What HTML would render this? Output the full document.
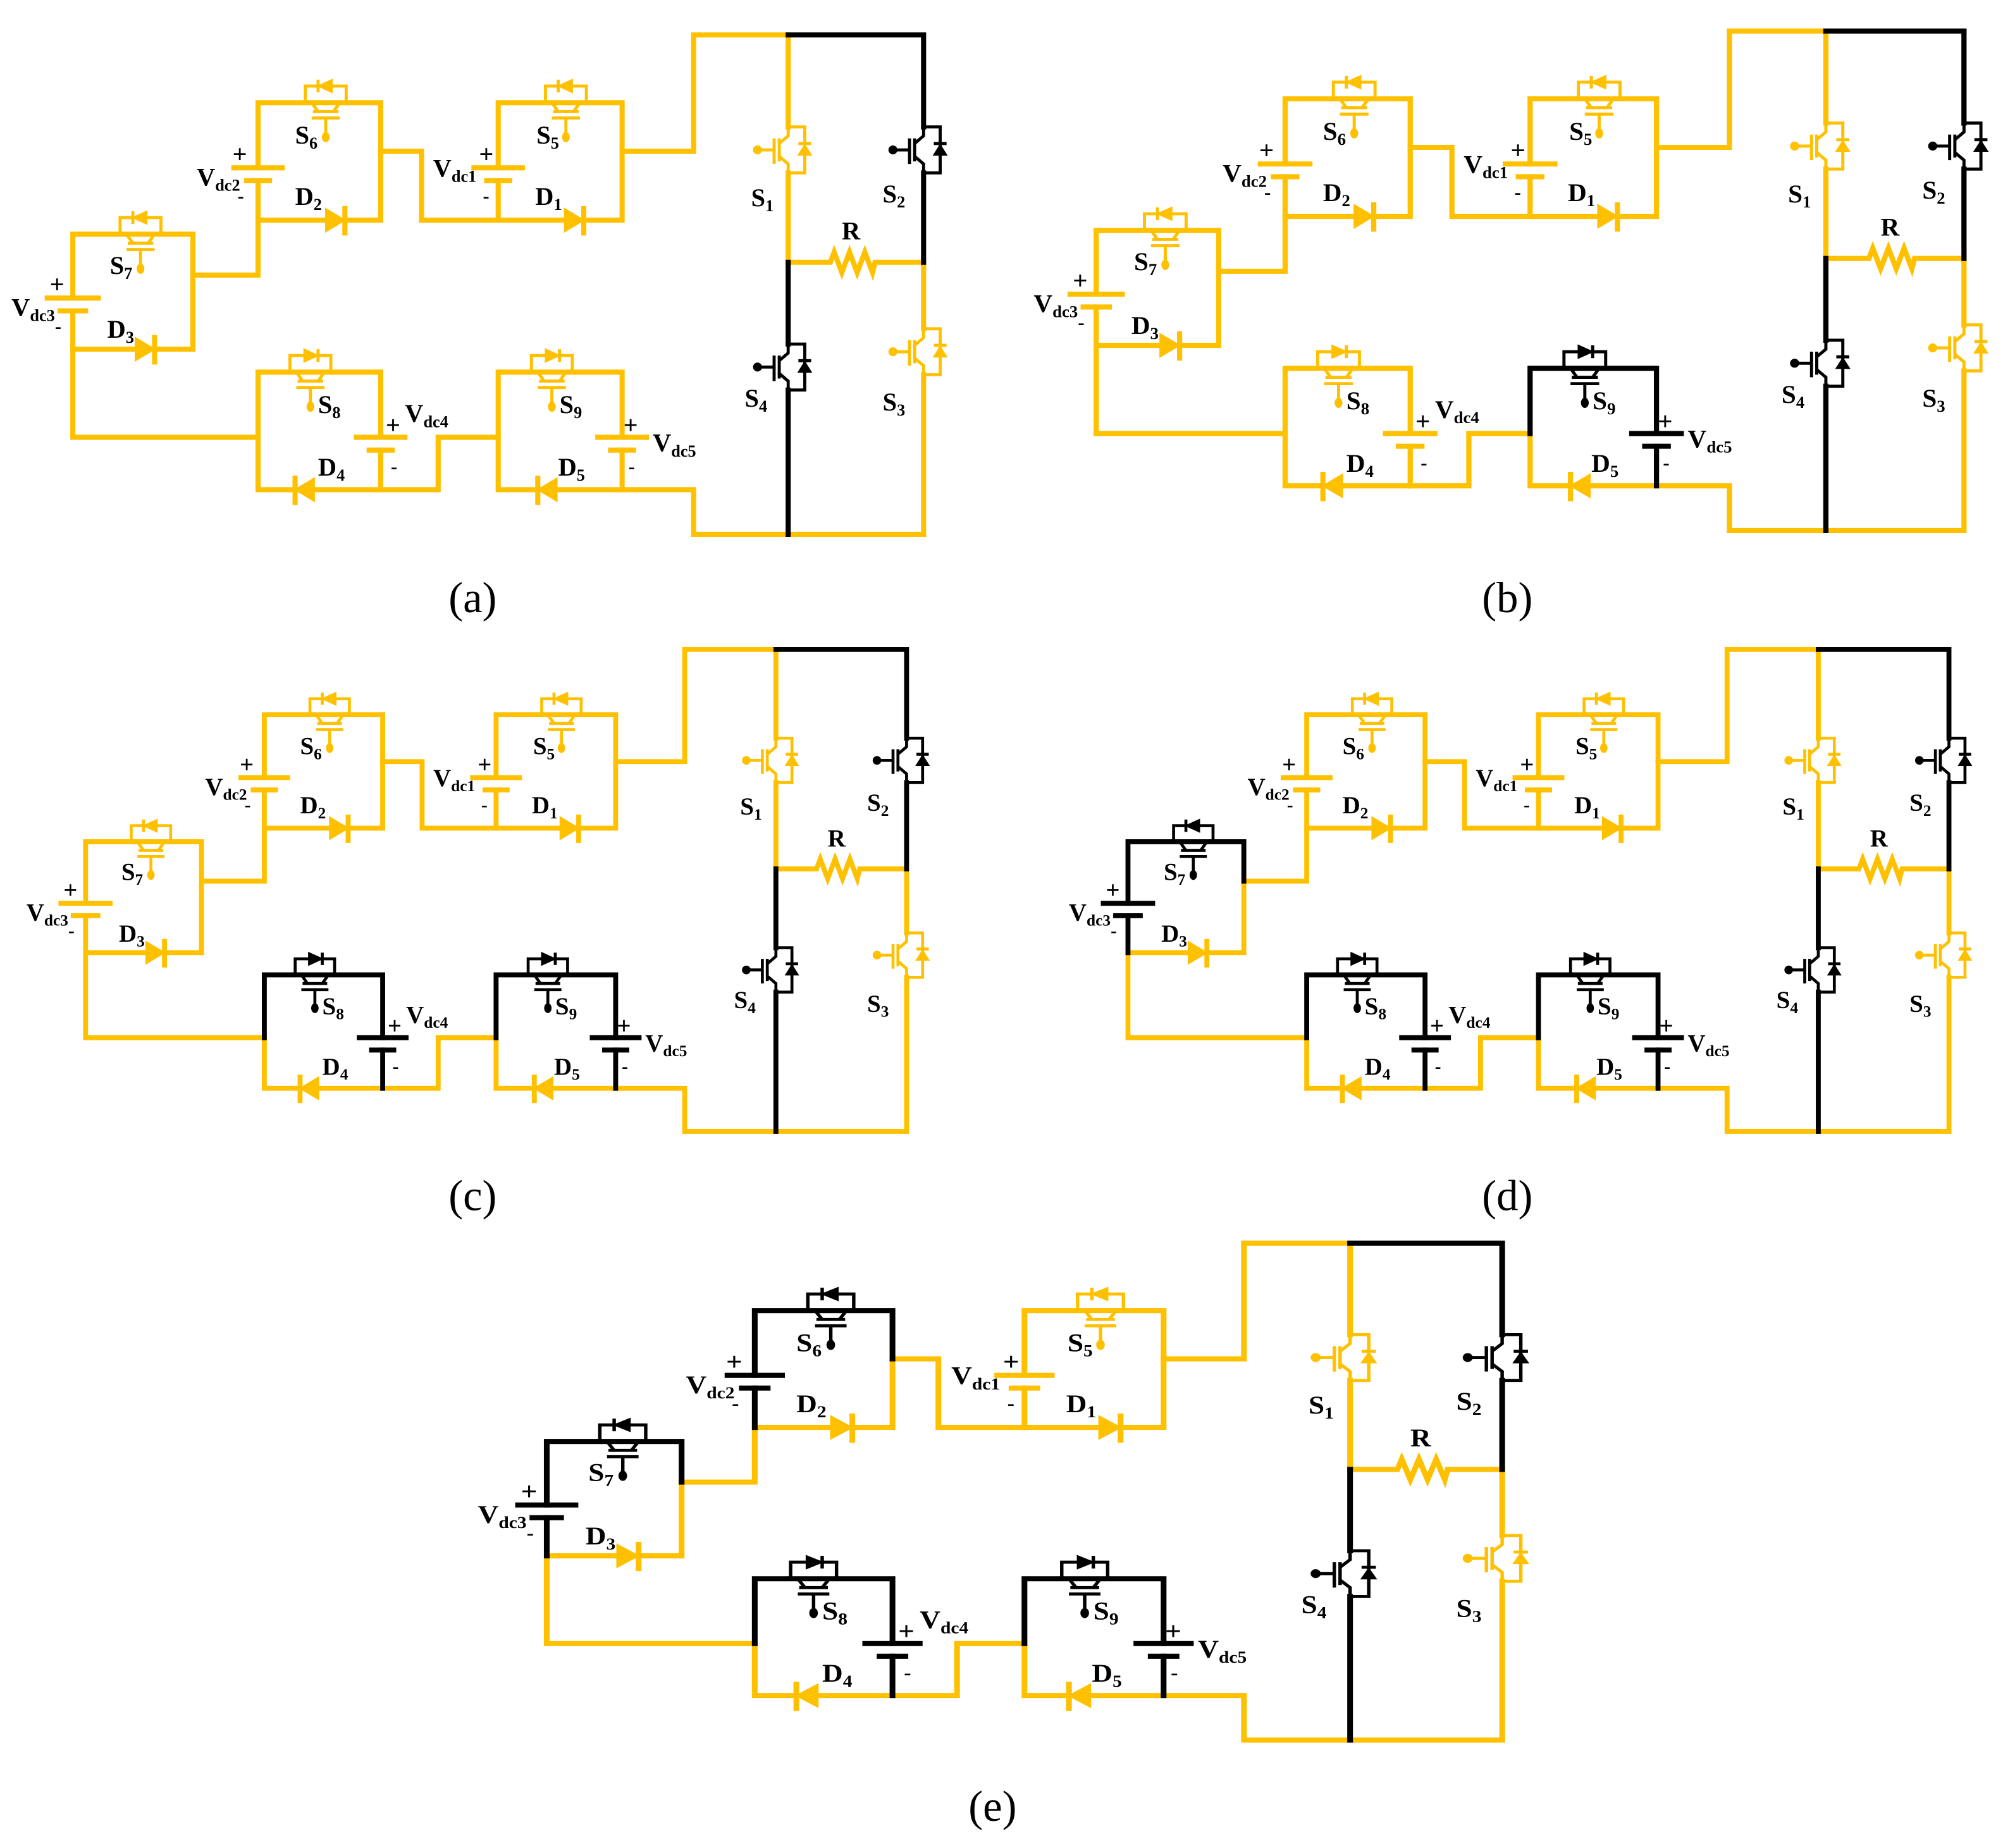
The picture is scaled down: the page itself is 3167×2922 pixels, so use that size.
<!DOCTYPE html>
<html><head><meta charset="utf-8"><style>
html,body{margin:0;padding:0;background:#fff;}
svg{display:block;}
text{font-family:"Liberation Serif",serif;font-weight:bold;fill:#000;}
.w{fill:none;stroke-width:4;stroke-linecap:square;stroke-linejoin:miter;}
.t{fill:none;stroke-width:2.4;}
</style></head><body>
<svg width="3167" height="2922" viewBox="0 0 1568 1446" xmlns="http://www.w3.org/2000/svg">
<defs>
<g id="panel">
 <g class="w" style="stroke:#FFC000">
  <path d="M57 273V342H202"/>
  <path d="M57 273H106M121 273H151V215"/>
  <path d="M151 215H202V172H255M270 172H298V118"/>
  <path d="M298 118H330V172H442M457 172H487V118"/>
  <path d="M487 118H543V27H617"/>
  <path d="M202 342V383H231M246 383H298"/>
  <path d="M298 383H343V342H390V383H421M436 383H487"/>
  <path d="M487 383H543V418H723"/>
  <path d="M617 27V99M617 135V205M723 205V257M723 293V418"/>
  <path d="M617 205H650l3 -8l6 16l6 -16l6 16l6 -16l6 16l2 -8H723"/>
  <path d="M390 80V131M390 141V172M390 80H487V118"/>
 </g>
 <g class="w" style="stroke:#000">
  <path d="M617 27H723V99M723 135V205"/>
  <path d="M617 205V269M617 305V418"/>
 </g>
 <g style="fill:#FFC000;stroke:#FFC000">
  <polygon points="106,264 121,273 106,282"/><path d="M121 262V285" class="t" style="stroke-width:4"/>
  <polygon points="255,163 270,172 255,181"/><path d="M270 161V184" class="t" style="stroke-width:4"/>
  <polygon points="442,163 457,172 442,181"/><path d="M457 161V184" class="t" style="stroke-width:4"/>
  <polygon points="246,374 231,383 246,392"/><path d="M231 372V395" class="t" style="stroke-width:4"/>
  <polygon points="436,374 421,383 436,392"/><path d="M421 372V395" class="t" style="stroke-width:4"/>
 </g>
 <g style="stroke:#FFC000" class="w"><path d="M371 131H409"/><path d="M381 141H399"/></g>
 <g transform="translate(443,80)" style="stroke:#FFC000;fill:#FFC000">
  <path class="t" d="M-16 0V-13H16V0M-11 0L-6 7M11 0L6 7M-10 7H10M-11 12H11M0 12V24"/>
  <polygon points="-6,-13 5,-18 5,-8"/><path class="t" d="M-6 -18V-8"/><ellipse cx="0" cy="27" rx="2.5" ry="3.5"/>
 </g>
 <g style="stroke:var(--k7,#FFC000);fill:var(--k7,#FFC000)">
  <path class="w" style="fill:none" d="M57 233V183H151V215M57 243V273"/>
  <path class="w" d="M37 233H77M47 243H67"/>
  <g transform="translate(110,183)">
   <path class="t" d="M-16 0V-13H16V0M-11 0L-6 7M11 0L6 7M-10 7H10M-11 12H11M0 12V24"/>
   <polygon points="-6,-13 5,-18 5,-8"/><path class="t" d="M-6 -18V-8"/><ellipse cx="0" cy="27" rx="2.5" ry="3.5"/>
  </g>
 </g>
 <g style="stroke:var(--k6,#FFC000);fill:var(--k6,#FFC000)">
  <path class="w" style="fill:none" d="M202 131V80H298V118M202 141V172"/>
  <path class="w" d="M183 131H221M193 141H211"/>
  <g transform="translate(255,80)">
   <path class="t" d="M-16 0V-13H16V0M-11 0L-6 7M11 0L6 7M-10 7H10M-11 12H11M0 12V24"/>
   <polygon points="-6,-13 5,-18 5,-8"/><path class="t" d="M-6 -18V-8"/><ellipse cx="0" cy="27" rx="2.5" ry="3.5"/>
  </g>
 </g>
 <g style="stroke:var(--k8,#FFC000);fill:var(--k8,#FFC000)">
  <path class="w" style="fill:none" d="M202 342V291H298V342M298 352V383"/>
  <path class="w" d="M279 342H317M289 352H307"/>
  <g transform="translate(243,291)">
   <path class="t" d="M-16 0V-13H16V0M-11 0L-6 7M11 0L6 7M-10 7H10M-11 12H11M0 12V24"/>
   <polygon points="6,-13 -5,-18 -5,-8"/><path class="t" d="M6 -18V-8"/><ellipse cx="0" cy="27" rx="2.5" ry="3.5"/>
  </g>
 </g>
 <g style="stroke:var(--k9,#FFC000);fill:var(--k9,#FFC000)">
  <path class="w" style="fill:none" d="M390 342V291H487V342M487 352V383"/>
  <path class="w" d="M468 342H506M478 352H496"/>
  <g transform="translate(432,291)">
   <path class="t" d="M-16 0V-13H16V0M-11 0L-6 7M11 0L6 7M-10 7H10M-11 12H11M0 12V24"/>
   <polygon points="6,-13 -5,-18 -5,-8"/><path class="t" d="M6 -18V-8"/><ellipse cx="0" cy="27" rx="2.5" ry="3.5"/>
  </g>
 </g>
 <g transform="translate(617,117)" style="stroke:#FFC000;fill:#FFC000">
  <path class="t" d="M0 -18V-11L-7 -5M-7 5L0 11V18M0 -18H13V18H0M-7 -9V9M-11 -9V11M-11 0H-22M8 -5H18"/>
  <polygon points="8,4 18,4 13,-4"/><circle cx="-24" cy="0" r="3"/>
 </g>
 <g transform="translate(723,117)" style="stroke:#000;fill:#000">
  <path class="t" d="M0 -18V-11L-7 -5M-7 5L0 11V18M0 -18H13V18H0M-7 -9V9M-11 -9V11M-11 0H-22M8 -5H18"/>
  <polygon points="8,4 18,4 13,-4"/><circle cx="-24" cy="0" r="3"/>
 </g>
 <g transform="translate(617,287)" style="stroke:#000;fill:#000">
  <path class="t" d="M0 -18V-11L-7 -5M-7 5L0 11V18M0 -18H13V18H0M-7 -9V9M-11 -9V11M-11 0H-22M8 -5H18"/>
  <polygon points="8,4 18,4 13,-4"/><circle cx="-24" cy="0" r="3"/>
 </g>
 <g transform="translate(723,275)" style="stroke:#FFC000;fill:#FFC000">
  <path class="t" d="M0 -18V-11L-7 -5M-7 5L0 11V18M0 -18H13V18H0M-7 -9V9M-11 -9V11M-11 0H-22M8 -5H18"/>
  <polygon points="8,4 18,4 13,-4"/><circle cx="-24" cy="0" r="3"/>
 </g>
 <g font-size="20">
  <text x="39" y="229">+</text><text x="9" y="247">V<tspan font-size="13" dy="4">dc3</tspan></text><text x="43" y="260" font-size="15">-</text>
  <text x="84" y="264">D<tspan font-size="13" dy="4">3</tspan></text>
  <text x="86" y="214">S<tspan font-size="13" dy="4">7</tspan></text>
  <text x="182" y="127">+</text><text x="154" y="145">V<tspan font-size="13" dy="4">dc2</tspan></text><text x="186" y="158" font-size="15">-</text>
  <text x="231" y="112">S<tspan font-size="13" dy="4">6</tspan></text>
  <text x="231" y="160">D<tspan font-size="13" dy="4">2</tspan></text>
  <text x="375" y="127">+</text><text x="339" y="138">V<tspan font-size="13" dy="4">dc1</tspan></text><text x="378" y="158" font-size="15">-</text>
  <text x="420" y="112">S<tspan font-size="13" dy="4">5</tspan></text>
  <text x="419" y="160">D<tspan font-size="13" dy="4">1</tspan></text>
  <text x="249" y="323">S<tspan font-size="13" dy="4">8</tspan></text>
  <text x="249" y="372">D<tspan font-size="13" dy="4">4</tspan></text>
  <text x="302" y="339">+</text><text x="317" y="330">V<tspan font-size="13" dy="4">dc4</tspan></text><text x="306" y="370" font-size="15">-</text>
  <text x="438" y="323">S<tspan font-size="13" dy="4">9</tspan></text>
  <text x="437" y="372">D<tspan font-size="13" dy="4">5</tspan></text>
  <text x="488" y="339">+</text><text x="511" y="353">V<tspan font-size="13" dy="4">dc5</tspan></text><text x="492" y="370" font-size="15">-</text>
  <text x="588" y="161">S<tspan font-size="13" dy="4">1</tspan></text>
  <text x="691" y="158">S<tspan font-size="13" dy="4">2</tspan></text>
  <text x="659" y="187">R</text>
  <text x="583" y="318">S<tspan font-size="13" dy="4">4</tspan></text>
  <text x="691" y="321">S<tspan font-size="13" dy="4">3</tspan></text>
 </g>
</g>
</defs>
<use href="#panel"/>
<use href="#panel" transform="translate(800,-3) scale(1.02,1)" style="--k9:#000"/>
<use href="#panel" transform="translate(12,482) scale(0.965)" style="--k8:#000;--k9:#000"/>
<use href="#panel" transform="translate(828,482) scale(0.965)" style="--k7:#000;--k8:#000;--k9:#000"/>
<use href="#panel" transform="translate(364,946) scale(1.123,0.995)" style="--k6:#000;--k7:#000;--k8:#000;--k9:#000"/>
<g font-size="34">
 <text x="370" y="479" text-anchor="middle" style="font-weight:normal">(a)</text>
 <text x="1180" y="479" text-anchor="middle" style="font-weight:normal">(b)</text>
 <text x="370" y="947" text-anchor="middle" style="font-weight:normal">(c)</text>
 <text x="1180" y="947" text-anchor="middle" style="font-weight:normal">(d)</text>
 <text x="777" y="1425" text-anchor="middle" style="font-weight:normal">(e)</text>
</g>
</svg>
</body></html>
